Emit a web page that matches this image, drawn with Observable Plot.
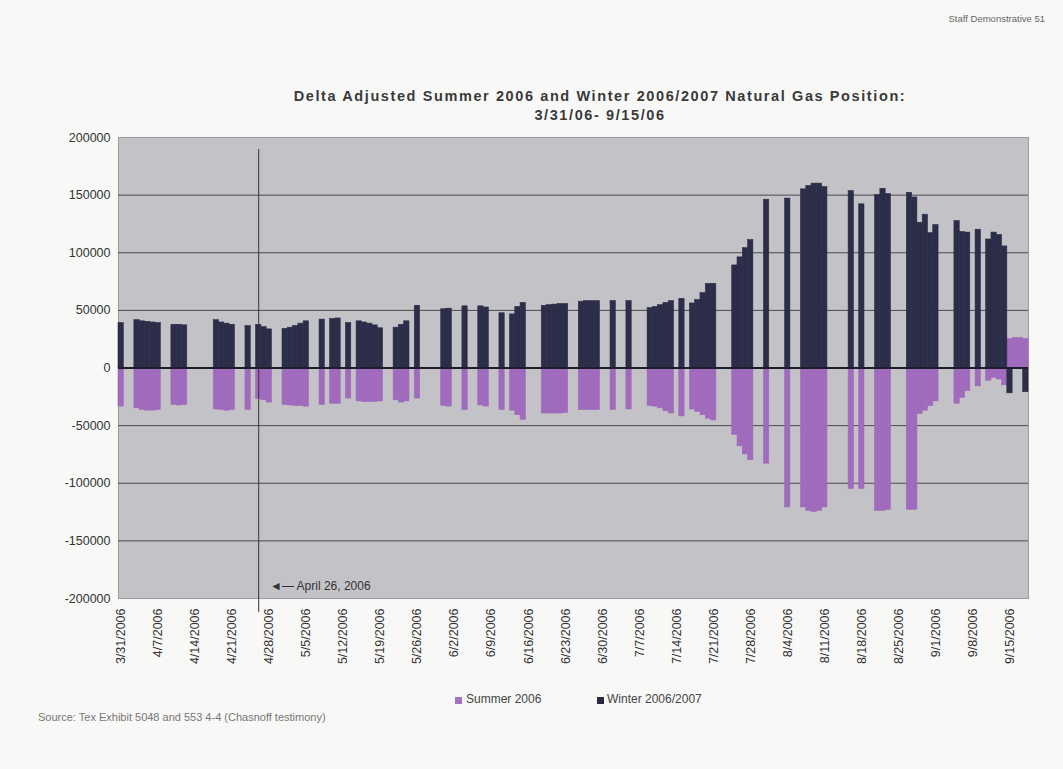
<!DOCTYPE html>
<html><head><meta charset="utf-8">
<script src="https://cdn.jsdelivr.net/npm/d3@7"></script>
<script src="https://cdn.jsdelivr.net/npm/@observablehq/plot@0.6"></script>
<style>
body{margin:0;background:#f8f8f6;font-family:"Liberation Sans",Arial,sans-serif;}
#page{position:relative;width:1063px;height:769px;overflow:hidden;background:#f8f8f6;}
#chart{position:absolute;left:0;top:0;}
.t{position:absolute;white-space:nowrap;color:#333;}
.sw{position:absolute;width:7px;height:7px;}
</style></head><body><div id="page">
<div class="t" style="left:0;width:1063px;top:13px;text-align:right;padding-right:18px;box-sizing:border-box;font-size:9.5px;color:#666">Staff Demonstrative 51</div>
<div class="t" style="left:0;width:1200px;top:88px;text-align:center;font-size:14.5px;letter-spacing:1.6px;font-weight:bold;color:#3a3a3a">Delta Adjusted Summer 2006 and Winter 2006/2007 Natural Gas Position:</div>
<div class="t" style="left:0;width:1200px;top:107px;text-align:center;font-size:14.5px;letter-spacing:1.6px;font-weight:bold;color:#3a3a3a">3/31/06- 9/15/06</div>
<div id="chart"></div>
<div class="sw" style="left:455px;top:697px;background:#a272c4"></div>
<div class="t" style="left:466px;top:692px;font-size:12px;color:#444">Summer 2006</div>
<div class="sw" style="left:597px;top:697px;background:#2a2a3c"></div>
<div class="t" style="left:607px;top:692px;font-size:12px;color:#444">Winter 2006/2007</div>
<div class="t" style="left:38px;top:711px;font-size:11px;color:#777">Source: Tex Exhibit 5048 and 553 4-4 (Chasnoff testimony)</div>
<div class="t" style="left:270px;top:579px;font-size:12px;color:#333">&#9668;&#8212; April 26, 2006</div>
</div>
<script>
// Trading dates with positions
const dates = [
 "3/31/2006",
 "4/3/2006","4/4/2006","4/5/2006","4/6/2006","4/7/2006",
 "4/10/2006","4/11/2006","4/12/2006",
 "4/18/2006","4/19/2006","4/20/2006","4/21/2006",
 "4/24/2006",
 "4/26/2006","4/27/2006","4/28/2006",
 "5/1/2006","5/2/2006","5/3/2006","5/4/2006","5/5/2006",
 "5/8/2006",
 "5/10/2006","5/11/2006",
 "5/13/2006",
 "5/15/2006","5/16/2006","5/17/2006","5/18/2006","5/19/2006",
 "5/22/2006","5/23/2006","5/24/2006",
 "5/26/2006",
 "5/31/2006","6/1/2006",
 "6/4/2006",
 "6/7/2006","6/8/2006",
 "6/11/2006",
 "6/13/2006","6/14/2006","6/15/2006",
 "6/19/2006","6/20/2006","6/21/2006","6/22/2006","6/23/2006",
 "6/26/2006","6/27/2006","6/28/2006","6/29/2006",
 "7/2/2006",
 "7/5/2006",
 "7/9/2006","7/10/2006","7/11/2006","7/12/2006","7/13/2006",
 "7/15/2006",
 "7/17/2006","7/18/2006","7/19/2006","7/20/2006","7/21/2006",
 "7/25/2006","7/26/2006","7/27/2006","7/28/2006",
 "7/31/2006",
 "8/4/2006",
 "8/7/2006","8/8/2006","8/9/2006","8/10/2006","8/11/2006",
 "8/16/2006",
 "8/18/2006",
 "8/21/2006","8/22/2006","8/23/2006",
 "8/27/2006","8/28/2006","8/29/2006","8/30/2006","8/31/2006","9/1/2006",
 "9/5/2006","9/6/2006","9/7/2006",
 "9/9/2006",
 "9/11/2006","9/12/2006","9/13/2006","9/14/2006",
 "9/15/2006","9/16/2006","9/17/2006","9/18/2006"
];
const winter = [
 39000,
 41500,40500,40000,39500,39000,
 37500,37500,37000,
 41500,39500,38500,37500,
 36500,
 37500,35500,33500,
 34000,35000,36500,38500,40500,
 42000,
 42500,43000,
 39000,
 40500,39500,38500,37000,34500,
 35000,37500,40500,
 54000,
 51000,51500,
 53500,
 53500,52500,
 47500,
 46500,53000,56500,
 54000,54500,55000,55500,55500,
 57500,58000,58000,58000,
 58000,
 58000,
 52000,53000,54500,56500,58000,
 60000,
 56000,59000,65000,73000,73000,
 89000,96000,104000,111000,
 146000,
 147000,
 155000,158000,160000,160000,157000,
 153500,
 142000,
 150000,155500,151000,
 152000,148000,126000,133000,117000,124000,
 127500,118000,117500,
 120000,
 111500,117500,115500,105500,
 -22000,null,null,-21000
];
const summer = [
 -33500,
 -35000,-36500,-37000,-37000,-36500,
 -32000,-32500,-32000,
 -36000,-36500,-37000,-36500,
 -36500,
 -27000,-28000,-30000,
 -32000,-32500,-33000,-33000,-33500,
 -32000,
 -31000,-31000,
 -26500,
 -29000,-29500,-29500,-29500,-29000,
 -28000,-30000,-29000,
 -26500,
 -33000,-33500,
 -36500,
 -32500,-33500,
 -36500,
 -37000,-41000,-45000,
 -39500,-39500,-39500,-39500,-39000,
 -36500,-36500,-36500,-36500,
 -36500,
 -36000,
 -33000,-33500,-35000,-37500,-39500,
 -42000,
 -36000,-38000,-41000,-44000,-45500,
 -58000,-68000,-75000,-80000,
 -83000,
 -121000,
 -121000,-124000,-125000,-124000,-121000,
 -105000,
 -105000,
 -124000,-124000,-123000,
 -123000,-123000,-40000,-37000,-33000,-29000,
 -31000,-26000,-20000,
 -16000,
 -11000,-8500,-10000,-15000,
 25000,26000,26000,25000
];
const yTicks = [200000,150000,100000,50000,0,-50000,-100000,-150000,-200000];
const gridLines = [150000,100000,50000,-50000,-100000,-150000];
const markerDate = "4/26/2006";

const fmt = d3.timeFormat("%-m/%-d/%Y");
const allDays = d3.timeDay.range(new Date(2006,2,31), new Date(2006,8,19)).map(fmt);
const tickDays = allDays.filter((d,i) => i % 7 === 0 && i <= 168);
const rows = dates.map((d,i) => ({date:d, winter:winter[i], summer:summer[i]}));

const chart = Plot.plot({
  width:1063, height:690,
  marginLeft:118, marginRight:35, marginTop:137, marginBottom:92,
  style:{background:"transparent", fontFamily:"Liberation Sans, Arial, sans-serif", color:"#333"},
  x:{type:"band", domain:allDays, padding:0},
  y:{domain:[-200000,200000]},
  marks:[
    Plot.frame({fill:"#c3c3c7", stroke:"#9c9c9c"}),
    Plot.ruleY(gridLines, {stroke:"#4a4a4e", strokeWidth:1}),
    Plot.barY(rows.filter(r => r.summer != null), {x:"date", y:"summer", fill:"#a06abd", stroke:"#a06abd", strokeWidth:0.6}),
    Plot.barY(rows.filter(r => r.winter != null), {x:"date", y:"winter", fill:"#2c2d48", stroke:"#2c2d48", strokeWidth:0.6}),
    Plot.ruleY([0], {stroke:"#1e1e2a", strokeWidth:2}),
    Plot.ruleX([markerDate], {stroke:"#333", strokeWidth:1, insetTop:12, insetBottom:-14}),
    Plot.axisX(tickDays, {tickRotate:-90, tickSize:0, tickPadding:10, fontSize:12.5, label:null}),
    Plot.axisY(yTicks, {tickSize:0, tickPadding:8, fontSize:12.5, label:null, tickFormat:d => String(d)})
  ]
});
document.getElementById("chart").appendChild(chart);
</script>
</body></html>
